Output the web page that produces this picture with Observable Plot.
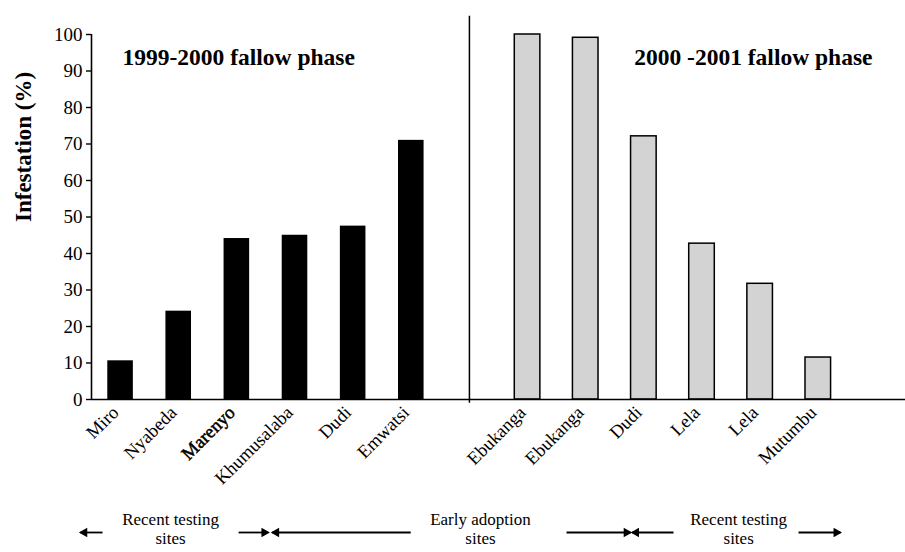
<!DOCTYPE html>
<html>
<head>
<meta charset="utf-8">
<script src="https://cdn.jsdelivr.net/npm/d3@7"></script>
<script src="https://cdn.jsdelivr.net/npm/@observablehq/plot@0.6"></script>
<style>
  html, body { margin: 0; padding: 0; background: #fff; }
  #chart svg { display: block; }
</style>
</head>
<body>
<div id="chart"></div>
<script>
// ---- data ----
const sites = ["Miro", "Nyabeda", "Marenyo", "Khumusalaba", "Dudi", "Emwatsi",
               "Ebukanga", "Ebukanga", "Dudi", "Lela", "Lela", "Mutumbu"];
const infestation = [10.6, 24.2, 44.1, 45.0, 47.5, 71.0,
                     100, 99.1, 72.1, 42.7, 31.7, 11.5];
const phaseOfSite = ["1999-2000", "1999-2000", "1999-2000", "1999-2000", "1999-2000", "1999-2000",
                     "2000-2001", "2000-2001", "2000-2001", "2000-2001", "2000-2001", "2000-2001"];
const phaseNames = ["1999-2000", "2000-2001"];
const phaseTitles = ["1999-2000 fallow phase", "2000 -2001 fallow phase"];
const yTicks = [0, 10, 20, 30, 40, 50, 60, 70, 80, 90, 100];

// site-group annotations (in site-slot units)
const groupLines1 = ["Recent testing", "Early adoption", "Recent testing"];
const groupLines2 = ["sites", "sites", "sites"];
const groupLabelAt = [0.86, 6.19, 10.63];
const arrowFrom = [-0.31, 2.03, 4.99, 7.67, 9.51, 11.66];
const arrowTo   = [-0.69, 2.54, 2.61, 8.77, 8.80, 12.38];

// ---- derived tables ----
const data = sites.map((site, i) => ({
  site, value: infestation[i], phase: phaseOfSite[i],
  slot: phaseOfSite[i] === phaseNames[0] ? i : i + 1   // one empty slot between phases
}));
const dividerSlot = data.filter(d => d.phase === phaseNames[0]).length;
const groups = groupLines1.map((line1, i) => ({line1, line2: groupLines2[i], at: groupLabelAt[i]}));
const arrows = arrowFrom.map((from, i) => ({from, to: arrowTo[i]}));

const half = 0.22;
const font = "Liberation Serif, Times New Roman, serif";

const chart = Plot.plot({
  width: 905,
  height: 552,
  marginLeft: 91,
  marginRight: 0,
  marginTop: 34,
  marginBottom: 153,
  style: {fontFamily: font, color: "#000", background: "#fff", overflow: "visible"},
  x: {domain: [-0.5, 13.5], axis: null},
  y: {domain: [0, 100], axis: null},
  marks: [
    // bars
    Plot.rectY(data.filter(d => d.phase === phaseNames[0]), {
      x1: d => d.slot - half, x2: d => d.slot + half, y: "value", fill: "#000"
    }),
    Plot.rectY(data.filter(d => d.phase === phaseNames[1]), {
      x1: d => d.slot - half, x2: d => d.slot + half, y: "value",
      fill: "#d3d3d3", stroke: "#000", strokeWidth: 1.5
    }),
    // axes lines
    Plot.ruleY([0], {stroke: "#000", strokeWidth: 1.6}),
    Plot.ruleX([-0.5], {y1: 0, y2: 100, stroke: "#000", strokeWidth: 1.6}),
    Plot.axisY({ticks: yTicks, tickSize: 5, tickPadding: 4, fontSize: 19, label: null,
                stroke: "#000", strokeWidth: 1.4, fill: "#000"}),
    Plot.text(["Infestation (%)"], {
      frameAnchor: "left", rotate: -90, dx: -68, dy: 5,
      fontSize: 23, fontWeight: "bold", fill: "#000"
    }),
    // divider between phases
    Plot.ruleX([dividerSlot], {y1: -1, y2: 105, stroke: "#000", strokeWidth: 1.5}),
    // phase titles
    Plot.text([phaseTitles[0]], {
      frameAnchor: "top-left", textAnchor: "start", lineAnchor: "middle",
      dx: 31, dy: 23, fontSize: 23.5, fontWeight: "bold", fill: "#000"
    }),
    Plot.text([phaseTitles[1]], {
      frameAnchor: "top-right", textAnchor: "end", lineAnchor: "middle",
      dx: -33, dy: 23, fontSize: 23.5, fontWeight: "bold", fill: "#000"
    }),
    // site labels
    Plot.text(data, {
      x: "slot", y: 0, text: "site", rotate: -45, textAnchor: "end", lineAnchor: "middle",
      dx: -5, dy: 10, fontSize: 18.5, fill: "#000"
    }),
    Plot.text(data.filter(d => d.site === "Marenyo"), {
      x: "slot", y: 0, text: "site", rotate: -45, textAnchor: "end", lineAnchor: "middle",
      dx: -5, dy: 10, fontSize: 18.5, fill: "none", stroke: "#000", strokeWidth: 0.5
    }),
    // group annotations
    Plot.text(groups, {
      x: "at", y: 0, text: "line1", dy: 120, fontSize: 17, fill: "#000", lineAnchor: "middle"
    }),
    Plot.text(groups, {
      x: "at", y: 0, text: "line2", dy: 139, fontSize: 17, fill: "#000", lineAnchor: "middle"
    }),
    Plot.link(arrows, {
      x1: "from", x2: "to", y1: 0, y2: 0, dy: 133, stroke: "#000", strokeWidth: 1.8
    }),
    Plot.dot(arrows.filter(d => d.to > d.from), {
      x: "to", y: 0, dy: 133, dx: -4, symbol: "triangle", r: 3.6, fill: "#000", stroke: null,
      rotate: 90
    }),
    Plot.dot(arrows.filter(d => d.to < d.from), {
      x: "to", y: 0, dy: 133, dx: 4, symbol: "triangle", r: 3.6, fill: "#000", stroke: null,
      rotate: -90
    })
  ]
});
document.getElementById("chart").appendChild(chart);
</script>
</body>
</html>
